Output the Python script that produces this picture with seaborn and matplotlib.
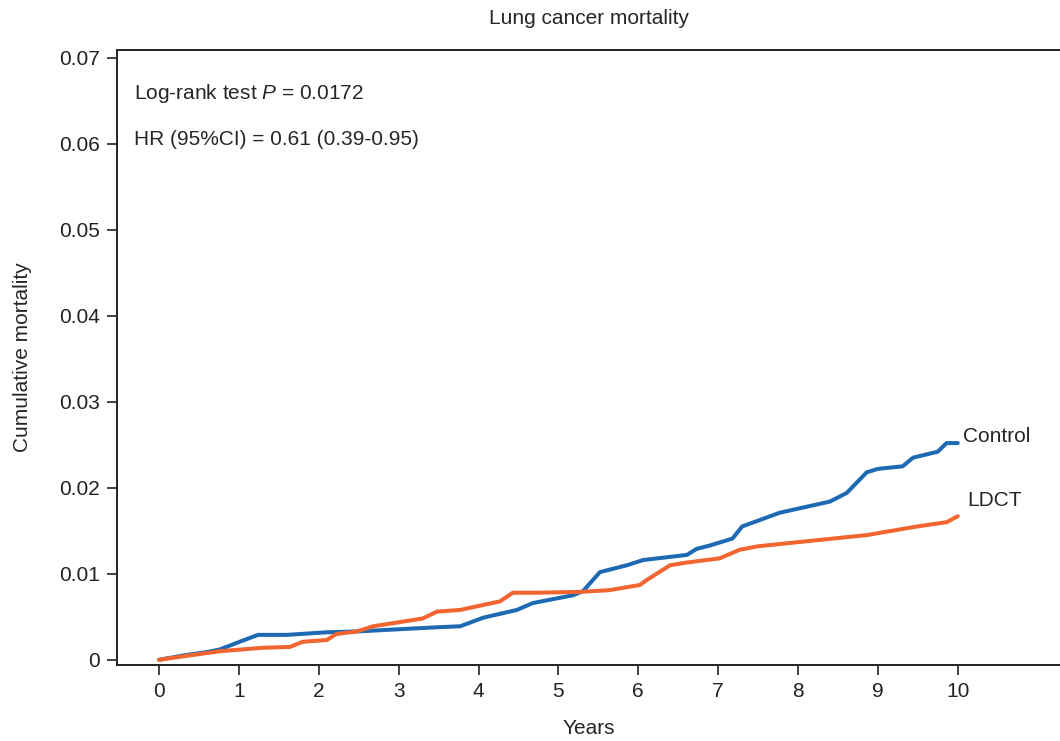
import numpy as np
import pandas as pd
import matplotlib
matplotlib.use("Agg")
import matplotlib.pyplot as plt
import seaborn as sns

# Values (years, cumulative mortality)
control_years = [0, 0.3, 0.6, 0.76, 1.01, 1.24, 1.6, 2.1, 2.48, 2.89, 3.52, 3.77, 4.06,
                 4.48, 4.68, 5.18, 5.31, 5.52, 5.86, 6.06, 6.61, 6.73, 6.9, 7.18, 7.3,
                 7.77, 8.4, 8.61, 8.86, 9.0, 9.31, 9.44, 9.75, 9.86, 10.0]
control_mort = [0, 0.0005, 0.0009, 0.0012, 0.0021, 0.0029, 0.0029, 0.0032, 0.0033, 0.0035,
                0.0038, 0.0039, 0.0049, 0.0058, 0.0066, 0.0075, 0.0080, 0.0102, 0.0110,
                0.0116, 0.0122, 0.0129, 0.0133, 0.0141, 0.0155, 0.0171, 0.0184, 0.0194,
                0.0218, 0.0222, 0.0225, 0.0235, 0.0242, 0.0252, 0.0252]

ldct_years = [0, 0.3, 0.76, 1.3, 1.64, 1.8, 2.1, 2.22, 2.48, 2.68, 3.3, 3.48, 3.77, 4.27,
              4.43, 4.73, 5.27, 5.64, 6.02, 6.11, 6.4, 6.6, 7.02, 7.27, 7.5, 8.02, 8.86,
              9.49, 9.86, 10.0]
ldct_mort = [0, 0.0004, 0.0010, 0.0014, 0.0015, 0.0021, 0.0023, 0.0030, 0.0033, 0.0039,
             0.0048, 0.0056, 0.0058, 0.0068, 0.0078, 0.0078, 0.0079, 0.0081, 0.0087, 0.0093,
             0.0110, 0.0113, 0.0118, 0.0128, 0.0132, 0.0137, 0.0145, 0.0155, 0.0160, 0.0167]

groups = ["Control", "LDCT"]
colors = ["#1d6ab3", "#f26530"]
x_ticks = list(range(0, 11))
y_ticks = [0, 0.01, 0.02, 0.03, 0.04, 0.05, 0.06, 0.07]
y_tick_labels = ["0", "0.01", "0.02", "0.03", "0.04", "0.05", "0.06", "0.07"]

df = pd.concat([
    pd.DataFrame({"Years": control_years, "mort": control_mort, "group": "Control"}),
    pd.DataFrame({"Years": ldct_years, "mort": ldct_mort, "group": "LDCT"}),
])

sns.set_style("ticks")
plt.rcParams["font.family"] = ["Liberation Sans", "DejaVu Sans"]
plt.rcParams["mathtext.fontset"] = "custom"
plt.rcParams["mathtext.rm"] = "Liberation Sans"
plt.rcParams["mathtext.it"] = "Liberation Sans:italic"

fs = 15

fig = plt.figure(figsize=(10.6, 7.41), dpi=100)
ax = fig.add_axes([0.1104, 0.1026, 0.8896, 0.8299])

sns.lineplot(data=df, x="Years", y="mort", hue="group", hue_order=groups,
             palette=colors, linewidth=2.9, legend=False, ax=ax)

ax.set_xlim(-0.526, 11.28)
ax.set_ylim(-0.0006, 0.0709)
ax.set_xticks(x_ticks)
ax.set_yticks(y_ticks)
ax.set_yticklabels(y_tick_labels)
ax.tick_params(axis="both", labelsize=fs, length=7, width=1.2, direction="out",
               colors="#222222", pad=5)
for side in ["left", "bottom", "top"]:
    ax.spines[side].set_linewidth(1.4)
    ax.spines[side].set_color("#222222")
ax.spines["right"].set_visible(False)

ax.set_xlabel("Years", fontsize=fs, labelpad=13)
ax.set_ylabel("Cumulative mortality", fontsize=fs, labelpad=20)
fig.text(0.556, 0.975, "Lung cancer mortality", ha="center", va="center", fontsize=fs)

ax.text(0.018, 0.930, r"Log-rank test $\it{P}$ = 0.0172", transform=ax.transAxes,
        fontsize=fs, va="center")
ax.text(0.018, 0.854, "HR (95%CI) = 0.61 (0.39-0.95)", transform=ax.transAxes,
        fontsize=fs, va="center")

ax.text(10.07, control_mort[-1] + 0.0008, "Control", fontsize=fs, va="center")
ax.text(10.12, ldct_mort[-1] + 0.0018, "LDCT", fontsize=fs, va="center")

fig.savefig("out.png", dpi=100)
